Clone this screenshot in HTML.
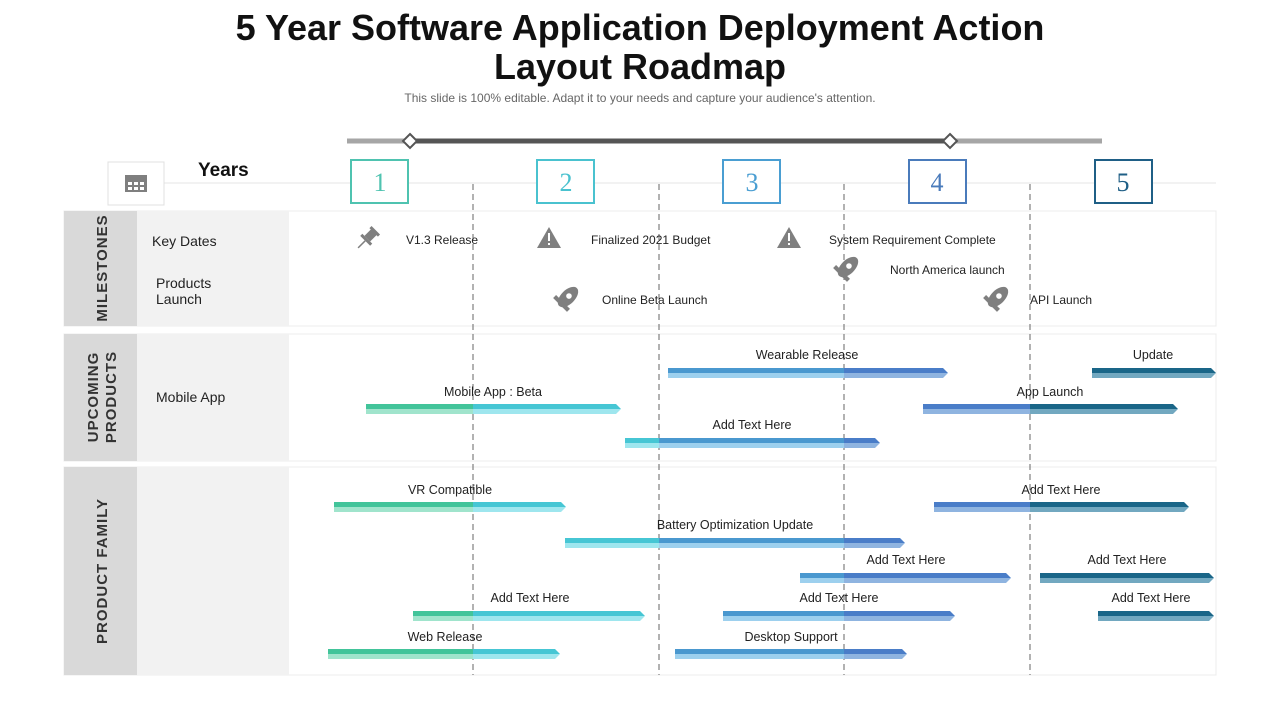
<!DOCTYPE html>
<html><head><meta charset="utf-8"><style>
html,body{margin:0;padding:0;background:#fff;width:1280px;height:720px;overflow:hidden}
svg{display:block}
text{font-family:"Liberation Sans",Arial,sans-serif}
</style></head><body>
<svg width="1280" height="720" viewBox="0 0 1280 720" xmlns="http://www.w3.org/2000/svg">
<defs>
<linearGradient id="gt" gradientUnits="userSpaceOnUse" x1="0" y1="0" x2="1280" y2="0">
<stop offset="0" stop-color="#42c49a"/><stop offset="0.3695" stop-color="#42c49a"/>
<stop offset="0.3695" stop-color="#46c6d4"/><stop offset="0.5148" stop-color="#46c6d4"/>
<stop offset="0.5148" stop-color="#4a98cf"/><stop offset="0.6594" stop-color="#4a98cf"/>
<stop offset="0.6594" stop-color="#4a7dc8"/><stop offset="0.8047" stop-color="#4a7dc8"/>
<stop offset="0.8047" stop-color="#1a6688"/><stop offset="1" stop-color="#1a6688"/>
</linearGradient>
<linearGradient id="gb" gradientUnits="userSpaceOnUse" x1="0" y1="0" x2="1280" y2="0">
<stop offset="0" stop-color="#a0e4cc"/><stop offset="0.3695" stop-color="#a0e4cc"/>
<stop offset="0.3695" stop-color="#9ee6ee"/><stop offset="0.5148" stop-color="#9ee6ee"/>
<stop offset="0.5148" stop-color="#9dd0ee"/><stop offset="0.6594" stop-color="#9dd0ee"/>
<stop offset="0.6594" stop-color="#8fb4e0"/><stop offset="0.8047" stop-color="#8fb4e0"/>
<stop offset="0.8047" stop-color="#72a8c0"/><stop offset="1" stop-color="#72a8c0"/>
</linearGradient>
</defs>

<text x="640" y="40" font-size="36" font-weight="bold" text-anchor="middle" fill="#111">5 Year Software Application Deployment Action</text>
<text x="640" y="79" font-size="36" font-weight="bold" text-anchor="middle" fill="#111">Layout Roadmap</text>
<text x="640" y="102" font-size="12" text-anchor="middle" fill="#666">This slide is 100% editable. Adapt it to your needs and capture your audience's attention.</text>

<line x1="347" y1="141" x2="1102" y2="141" stroke="#a6a6a6" stroke-width="5"/>
<line x1="410" y1="141" x2="950" y2="141" stroke="#555" stroke-width="5"/>
<polygon points="410,134 417,141 410,148 403,141" fill="#fff" stroke="#555" stroke-width="2"/>
<polygon points="950,134 957,141 950,148 943,141" fill="#fff" stroke="#555" stroke-width="2"/>

<line x1="137" y1="183" x2="1216" y2="183" stroke="#e6e6e6" stroke-width="1"/>
<rect x="108" y="162" width="56" height="43" fill="#fff" stroke="#e0e0e0"/>
<rect x="125" y="175" width="22" height="17" fill="#7f7f7f"/>
<g fill="#fff"><rect x="128" y="182" width="4" height="3"/><rect x="134" y="182" width="4" height="3"/><rect x="140" y="182" width="4" height="3"/><rect x="128" y="187" width="4" height="3"/><rect x="134" y="187" width="4" height="3"/><rect x="140" y="187" width="4" height="3"/></g>
<text x="198" y="176" font-size="19" font-weight="bold" fill="#111">Years</text>
<g font-size="26" text-anchor="middle">
<rect x="351" y="160" width="57" height="43" fill="#fff" stroke="#4fc3b0" stroke-width="2"/><text x="380" y="191" fill="#4fc3b0" style="font-family:'Liberation Serif',serif">1</text>
<rect x="537" y="160" width="57" height="43" fill="#fff" stroke="#4ac2cf" stroke-width="2"/><text x="566" y="191" fill="#4ac2cf" style="font-family:'Liberation Serif',serif">2</text>
<rect x="723" y="160" width="57" height="43" fill="#fff" stroke="#4a9ed2" stroke-width="2"/><text x="752" y="191" fill="#4a9ed2" style="font-family:'Liberation Serif',serif">3</text>
<rect x="909" y="160" width="57" height="43" fill="#fff" stroke="#4a7bbb" stroke-width="2"/><text x="937" y="191" fill="#4a7bbb" style="font-family:'Liberation Serif',serif">4</text>
<rect x="1095" y="160" width="57" height="43" fill="#fff" stroke="#1f5f86" stroke-width="2"/><text x="1123" y="191" fill="#1f5f86" style="font-family:'Liberation Serif',serif">5</text>
</g>

<g stroke="#ececec" stroke-width="1">
<rect x="64" y="211" width="1152" height="115" fill="#fff"/>
<rect x="64" y="334" width="1152" height="127" fill="#fff"/>
<rect x="64" y="467" width="1152" height="208" fill="#fff"/>
</g>
<g fill="#d9d9d9"><rect x="64" y="211" width="73" height="115"/><rect x="64" y="334" width="73" height="127"/><rect x="64" y="467" width="73" height="208"/></g>
<g fill="#f2f2f2"><rect x="137" y="211" width="152" height="115"/><rect x="137" y="334" width="152" height="127"/><rect x="137" y="467" width="152" height="208"/></g>
<g font-size="15" font-weight="bold" fill="#333" text-anchor="middle" letter-spacing="1">
<text transform="translate(107,268) rotate(-90)">MILESTONES</text>
<text transform="translate(98,397) rotate(-90)">UPCOMING</text>
<text transform="translate(116,397) rotate(-90)">PRODUCTS</text>
<text transform="translate(107,571) rotate(-90)">PRODUCT FAMILY</text>
</g>
<g font-size="14" fill="#222">
<text x="152" y="246">Key Dates</text>
<text x="156" y="288">Products</text>
<text x="156" y="304">Launch</text>
<text x="156" y="402">Mobile App</text>
</g>

<g stroke="#666" stroke-width="1" stroke-dasharray="6,4">
<line x1="473" y1="184" x2="473" y2="675"/><line x1="659" y1="184" x2="659" y2="675"/>
<line x1="844" y1="184" x2="844" y2="675"/><line x1="1030" y1="184" x2="1030" y2="675"/>
</g>

<g fill="#7f7f7f">
<g transform="translate(368,238) rotate(45)"><rect x="-4" y="-9" width="8" height="10"/><rect x="-7" y="1" width="14" height="3"/><rect x="-6" y="-11" width="12" height="3"/><line x1="0" y1="4" x2="0" y2="14" stroke="#7f7f7f" stroke-width="1.5"/></g>
<polygon points="549,227 561,248 537,248"/><polygon points="789,227 801,248 777,248"/>
<rect x="548" y="233" width="2" height="8" fill="#fff"/><rect x="548" y="243" width="2" height="2" fill="#fff"/>
<rect x="788" y="233" width="2" height="8" fill="#fff"/><rect x="788" y="243" width="2" height="2" fill="#fff"/>
<g transform="translate(566,299) rotate(45) scale(1.4)"><ellipse cx="0" cy="-2" rx="5" ry="9"/><circle cx="0" cy="-3" r="2" fill="#fff"/><rect x="-7" y="3" width="14" height="3"/></g>
<g transform="translate(846,269) rotate(45) scale(1.4)"><ellipse cx="0" cy="-2" rx="5" ry="9"/><circle cx="0" cy="-3" r="2" fill="#fff"/><rect x="-7" y="3" width="14" height="3"/></g>
<g transform="translate(996,299) rotate(45) scale(1.4)"><ellipse cx="0" cy="-2" rx="5" ry="9"/><circle cx="0" cy="-3" r="2" fill="#fff"/><rect x="-7" y="3" width="14" height="3"/></g>
</g>
<g font-size="12" fill="#222">
<text x="406" y="244">V1.3 Release</text>
<text x="591" y="244">Finalized 2021 Budget</text>
<text x="829" y="244">System Requirement Complete</text>
<text x="890" y="274">North America launch</text>
<text x="602" y="304">Online Beta Launch</text>
<text x="1030" y="304">API Launch</text>
</g>

<g font-size="12.5" fill="#222" text-anchor="middle">
<text x="807" y="359">Wearable Release</text>
<text x="1153" y="359">Update</text>
<text x="493" y="396">Mobile App : Beta</text>
<text x="1050" y="396">App Launch</text>
<text x="752" y="429">Add Text Here</text>
<text x="450" y="494">VR Compatible</text>
<text x="1061" y="494">Add Text Here</text>
<text x="735" y="529">Battery Optimization Update</text>
<text x="906" y="564">Add Text Here</text>
<text x="1127" y="564">Add Text Here</text>
<text x="530" y="602">Add Text Here</text>
<text x="839" y="602">Add Text Here</text>
<text x="1151" y="602">Add Text Here</text>
<text x="445" y="641">Web Release</text>
<text x="791" y="641">Desktop Support</text>
</g>
<g>
<polygon points="668,368 943,368 948,373 668,373" fill="url(#gt)"/><polygon points="668,373 948,373 943,378 668,378" fill="url(#gb)"/>
<polygon points="1092,368 1211,368 1216,373 1092,373" fill="url(#gt)"/><polygon points="1092,373 1216,373 1211,378 1092,378" fill="url(#gb)"/>
<polygon points="366,404 616,404 621,409 366,409" fill="url(#gt)"/><polygon points="366,409 621,409 616,414 366,414" fill="url(#gb)"/>
<polygon points="923,404 1173,404 1178,409 923,409" fill="url(#gt)"/><polygon points="923,409 1178,409 1173,414 923,414" fill="url(#gb)"/>
<polygon points="625,438 875,438 880,443 625,443" fill="url(#gt)"/><polygon points="625,443 880,443 875,448 625,448" fill="url(#gb)"/>
<polygon points="334,502 561,502 566,507 334,507" fill="url(#gt)"/><polygon points="334,507 566,507 561,512 334,512" fill="url(#gb)"/>
<polygon points="934,502 1184,502 1189,507 934,507" fill="url(#gt)"/><polygon points="934,507 1189,507 1184,512 934,512" fill="url(#gb)"/>
<polygon points="565,538 900,538 905,543 565,543" fill="url(#gt)"/><polygon points="565,543 905,543 900,548 565,548" fill="url(#gb)"/>
<polygon points="800,573 1006,573 1011,578 800,578" fill="url(#gt)"/><polygon points="800,578 1011,578 1006,583 800,583" fill="url(#gb)"/>
<polygon points="1040,573 1209,573 1214,578 1040,578" fill="url(#gt)"/><polygon points="1040,578 1214,578 1209,583 1040,583" fill="url(#gb)"/>
<polygon points="413,611 640,611 645,616 413,616" fill="url(#gt)"/><polygon points="413,616 645,616 640,621 413,621" fill="url(#gb)"/>
<polygon points="723,611 950,611 955,616 723,616" fill="url(#gt)"/><polygon points="723,616 955,616 950,621 723,621" fill="url(#gb)"/>
<polygon points="1098,611 1209,611 1214,616 1098,616" fill="url(#gt)"/><polygon points="1098,616 1214,616 1209,621 1098,621" fill="url(#gb)"/>
<polygon points="328,649 555,649 560,654 328,654" fill="url(#gt)"/><polygon points="328,654 560,654 555,659 328,659" fill="url(#gb)"/>
<polygon points="675,649 902,649 907,654 675,654" fill="url(#gt)"/><polygon points="675,654 907,654 902,659 675,659" fill="url(#gb)"/>
</g>
</svg>
</body></html>
